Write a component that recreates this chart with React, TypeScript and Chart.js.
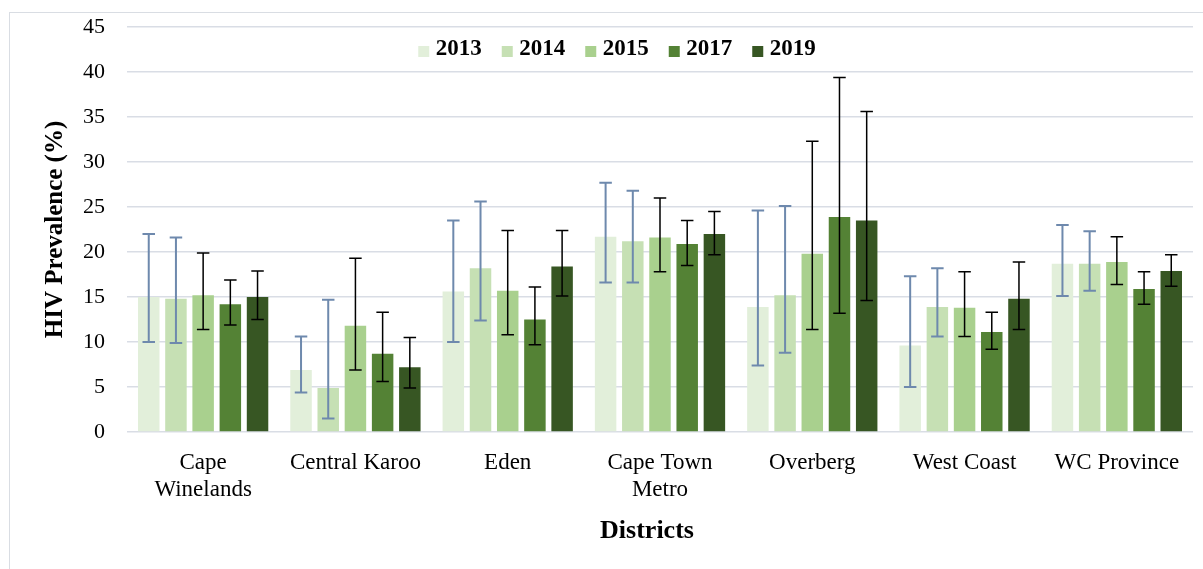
import React, { useEffect, useRef } from 'react';
import { Chart, registerables } from 'chart.js';

Chart.register(...registerables);

const SERIF = "'Times New Roman', 'Liberation Serif', serif";

// Categories (districts) and series labels
const categories: (string | string[])[] = [
  ['Cape', 'Winelands'],
  'Central Karoo',
  'Eden',
  ['Cape Town', 'Metro'],
  'Overberg',
  'West Coast',
  'WC Province',
];
const years = ['2013', '2014', '2015', '2017', '2019'];

// HIV prevalence (%) per year
const prev2013 = [15.0, 6.9, 15.6, 21.7, 13.9, 9.6, 18.7];
const prev2014 = [14.8, 4.9, 18.2, 21.2, 15.2, 13.9, 18.7];
const prev2015 = [15.2, 11.8, 15.7, 21.6, 19.8, 13.8, 18.9];
const prev2017 = [14.2, 8.7, 12.5, 20.9, 23.9, 11.1, 15.9];
const prev2019 = [15.0, 7.2, 18.4, 22.0, 23.5, 14.8, 17.9];

// Lower confidence limits
const low2013 = [10.0, 4.4, 10.0, 16.6, 7.4, 5.0, 15.1];
const low2014 = [9.9, 1.5, 12.4, 16.6, 8.8, 10.6, 15.7];
const low2015 = [11.4, 6.9, 10.8, 17.8, 11.4, 10.6, 16.4];
const low2017 = [11.9, 5.6, 9.7, 18.5, 13.2, 9.2, 14.2];
const low2019 = [12.5, 4.9, 15.1, 19.7, 14.6, 11.4, 16.2];

// Upper confidence limits
const high2013 = [22.0, 10.6, 23.5, 27.7, 24.6, 17.3, 23.0];
const high2014 = [21.6, 14.7, 25.6, 26.8, 25.1, 18.2, 22.3];
const high2015 = [19.9, 19.3, 22.4, 26.0, 32.3, 17.8, 21.7];
const high2017 = [16.9, 13.3, 16.1, 23.5, 39.4, 13.3, 17.8];
const high2019 = [17.9, 10.5, 22.4, 24.5, 35.6, 18.9, 19.7];

// Axis
const yMin = 0;
const yMax = 45;
const yStep = 5;

const seriesValues = [prev2013, prev2014, prev2015, prev2017, prev2019];
const seriesLow = [low2013, low2014, low2015, low2017, low2019];
const seriesHigh = [high2013, high2014, high2015, high2017, high2019];
const barColors = ['#e2efda', '#c6e0b4', '#a9d08e', '#548235', '#375623'];
const errColors = ['#6e89ad', '#6e89ad', '#000000', '#000000', '#000000'];
const errWidths = [2, 2, 1.5, 1.5, 1.5];

const errorBarsPlugin = {
  id: 'errorBars',
  afterDatasetsDraw(chart: any, _args: any, opts: any) {
    const ctx = chart.ctx;
    const yScale = chart.scales.y;
    const cap = opts.capWidth;
    chart.data.datasets.forEach((_ds: any, i: number) => {
      const meta = chart.getDatasetMeta(i);
      ctx.save();
      ctx.strokeStyle = opts.colors[i];
      ctx.lineWidth = opts.widths[i];
      meta.data.forEach((bar: any, j: number) => {
        const x = bar.x;
        const yl = yScale.getPixelForValue(opts.low[i][j]);
        const yh = yScale.getPixelForValue(opts.high[i][j]);
        ctx.beginPath();
        ctx.moveTo(x, yl);
        ctx.lineTo(x, yh);
        ctx.moveTo(x - cap / 2, yl);
        ctx.lineTo(x + cap / 2, yl);
        ctx.moveTo(x - cap / 2, yh);
        ctx.lineTo(x + cap / 2, yh);
        ctx.stroke();
      });
      ctx.restore();
    });
  },
};

const overlayLegendPlugin = {
  id: 'overlayLegend',
  afterDraw(chart: any, _args: any, opts: any) {
    const ctx = chart.ctx;
    ctx.save();
    ctx.font = `bold ${opts.fontSize}px ${SERIF}`;
    const items = chart.data.datasets.map((ds: any) => ({
      label: ds.label,
      color: ds.backgroundColor,
      w: ctx.measureText(ds.label).width,
    }));
    const total =
      items.reduce((s: number, it: any) => s + opts.box + opts.gap + it.w, 0) +
      opts.itemGap * (items.length - 1);
    let x = opts.centerX - total / 2;
    items.forEach((it: any) => {
      ctx.fillStyle = it.color;
      ctx.fillRect(x, opts.centerY - opts.box / 2 + opts.boxOffset, opts.box, opts.box);
      x += opts.box + opts.gap;
      ctx.fillStyle = '#000';
      ctx.textAlign = 'left';
      ctx.textBaseline = 'middle';
      ctx.fillText(it.label, x, opts.centerY);
      x += it.w + opts.itemGap;
    });
    ctx.restore();
  },
};

const xTitlePlugin = {
  id: 'xTitle',
  afterDraw(chart: any, _args: any, opts: any) {
    const ctx = chart.ctx;
    ctx.save();
    ctx.font = `bold ${opts.fontSize}px ${SERIF}`;
    ctx.fillStyle = '#000';
    ctx.textAlign = 'center';
    ctx.textBaseline = 'middle';
    ctx.fillText(opts.text, opts.x, opts.y);
    ctx.restore();
  },
};

export default function App() {
  const ref = useRef<HTMLCanvasElement>(null);

  useEffect(() => {
    const chart = new Chart(ref.current as HTMLCanvasElement, {
      type: 'bar',
      data: {
        labels: categories,
        datasets: years.map((yr, i) => ({
          label: yr,
          data: seriesValues[i],
          backgroundColor: barColors[i],
          borderWidth: 0,
          barPercentage: 0.79,
          categoryPercentage: 0.893,
        })),
      },
      options: {
        responsive: false,
        animation: false,
        devicePixelRatio: 1,
        layout: { padding: { left: 0, top: 27, right: 10, bottom: 0 } },
        plugins: {
          legend: { display: false },
          tooltip: { enabled: false },
          errorBars: {
            low: seriesLow,
            high: seriesHigh,
            colors: errColors,
            widths: errWidths,
            capWidth: 12.5,
          },
          overlayLegend: {
            fontSize: 23,
            box: 11,
            gap: 6.5,
            itemGap: 20,
            centerX: 617,
            centerY: 49.5,
            boxOffset: 2,
          },
          xTitle: { text: 'Districts', fontSize: 26, x: 647, y: 531 },
        } as any,
        scales: {
          x: {
            grid: { display: false },
            border: { display: false },
            ticks: {
              color: '#000',
              font: { family: SERIF, size: 23 },
              padding: 9,
              maxRotation: 0,
              autoSkip: false,
            },
            afterFit: (s: any) => {
              s.height = 137;
            },
          },
          y: {
            min: yMin,
            max: yMax,
            ticks: {
              stepSize: yStep,
              color: '#000',
              font: { family: SERIF, size: 22 },
              padding: 22,
            },
            grid: { color: '#d9dde5', lineWidth: 1.5, drawTicks: false },
            border: { display: false },
            title: {
              display: true,
              text: 'HIV Prevalence (%)',
              color: '#000',
              font: { family: SERIF, size: 25, weight: 'bold' },
              padding: { top: 41, bottom: 0 },
            },
            afterFit: (s: any) => {
              s.width = 127;
              s.paddingTop = 14;
              s.paddingBottom = 14;
            },
          },
        },
      },
      plugins: [errorBarsPlugin, overlayLegendPlugin, xTitlePlugin],
    } as any);
    return () => chart.destroy();
  }, []);

  return (
    <div
      style={{
        position: 'absolute',
        left: 0,
        top: 0,
        width: 1203,
        height: 569,
        overflow: 'hidden',
        background: '#ffffff',
      }}
    >
      <div
        style={{
          position: 'absolute',
          left: 9,
          top: 12,
          width: 1300,
          height: 700,
          border: '1.5px solid #d9dde3',
          boxSizing: 'border-box',
        }}
      />
      <canvas
        ref={ref}
        width={1203}
        height={569}
        style={{ position: 'absolute', left: 0, top: 0, width: 1203, height: 569 }}
      />
    </div>
  );
}
